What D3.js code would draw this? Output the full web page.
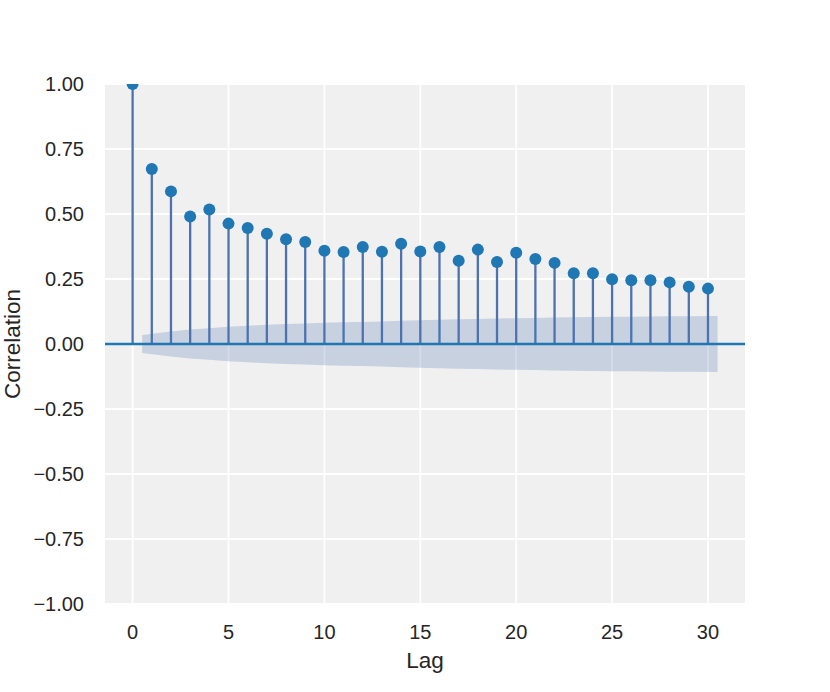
<!DOCTYPE html>
<html>
<head>
<meta charset="utf-8">
<script src="https://cdn.jsdelivr.net/npm/d3@7"></script>
<style>
  html, body { margin: 0; padding: 0; background: #ffffff; }
  svg { display: block; }
  text { font-family: "Liberation Sans", Arial, Helvetica, sans-serif; fill: #262626; }
</style>
</head>
<body>
<svg id="chart" width="830" height="692"></svg>
<script>
// ---- data ----
const lags = [0,1,2,3,4,5,6,7,8,9,10,11,12,13,14,15,16,17,18,19,20,21,22,23,24,25,26,27,28,29,30];
const acfValues = [1.000,0.673,0.587,0.490,0.517,0.463,0.446,0.424,0.403,0.392,0.359,0.354,0.373,0.355,0.386,0.356,0.373,0.320,0.363,0.315,0.351,0.327,0.312,0.272,0.272,0.249,0.245,0.245,0.237,0.220,0.213];
// confidence band half-width for lags 1..30
const bandLags = [0.5,2,3,4,5,6,7,8,9,10,11,12,13,14,15,16,17,18,19,20,21,22,23,24,25,26,27,28,29,30.5];
const bandHalf = [0.035,0.048,0.056,0.061,0.066,0.070,0.074,0.077,0.079,0.082,0.084,0.085,0.087,0.089,0.091,0.093,0.095,0.096,0.098,0.099,0.100,0.102,0.103,0.104,0.105,0.105,0.106,0.107,0.107,0.108];
const xTicks = [0,5,10,15,20,25,30];
const yTicks = [-1.00,-0.75,-0.50,-0.25,0.00,0.25,0.50,0.75,1.00];
const xLabel = "Lag";
const yLabel = "Correlation";

// ---- layout ----
const plot = { left: 105, right: 745, top: 84, bottom: 604 };
const svg = d3.select("#chart");
const x = d3.scaleLinear().domain([-1.44, 31.93]).range([plot.left, plot.right]);
const y = d3.scaleLinear().domain([-1, 1]).range([plot.bottom, plot.top]);

svg.append("defs").append("clipPath").attr("id", "clip")
  .append("rect").attr("x", plot.left).attr("y", plot.top)
  .attr("width", plot.right - plot.left).attr("height", plot.bottom - plot.top);

// background
svg.append("rect").attr("x", plot.left).attr("y", plot.top)
  .attr("width", plot.right - plot.left).attr("height", plot.bottom - plot.top)
  .attr("fill", "#f0f0f0");

// grid
const grid = svg.append("g");
grid.selectAll(".gx").data(xTicks).enter().append("line")
  .attr("x1", d => x(d)).attr("x2", d => x(d))
  .attr("y1", plot.top).attr("y2", plot.bottom)
  .attr("stroke", "#ffffff").attr("stroke-width", 1.8);
grid.selectAll(".gy").data(yTicks).enter().append("line")
  .attr("x1", plot.left).attr("x2", plot.right)
  .attr("y1", d => y(d)).attr("y2", d => y(d))
  .attr("stroke", "#ffffff").attr("stroke-width", 1.8);

const g = svg.append("g").attr("clip-path", "url(#clip)");

// confidence band
const band = bandLags.map((l, i) => ({ l, h: bandHalf[i] }));
const area = d3.area().x(d => x(d.l)).y0(d => y(-d.h)).y1(d => y(d.h));
g.append("path").datum(band).attr("d", area)
  .attr("fill", "#4c72b0").attr("fill-opacity", 0.25);

// stems
g.selectAll(".stem").data(lags).enter().append("line")
  .attr("x1", d => x(d)).attr("x2", d => x(d))
  .attr("y1", y(0)).attr("y2", (d, i) => y(acfValues[i]))
  .attr("stroke", "#4c72b0").attr("stroke-width", 2.3);

// zero line
g.append("line").attr("x1", plot.left).attr("x2", plot.right)
  .attr("y1", y(0)).attr("y2", y(0))
  .attr("stroke", "#1f77b4").attr("stroke-width", 2.4);

// markers
g.selectAll(".dot").data(lags).enter().append("circle")
  .attr("cx", d => x(d)).attr("cy", (d, i) => y(acfValues[i]))
  .attr("r", 6).attr("fill", "#1f77b4");

// tick labels
const fmt = v => (v < 0 ? "\u2212" : "") + Math.abs(v).toFixed(2);
svg.append("g").selectAll("text").data(yTicks).enter().append("text")
  .attr("x", 84).attr("y", d => y(d) + 7)
  .attr("text-anchor", "end").attr("font-size", 20)
  .text(fmt);
svg.append("g").selectAll("text").data(xTicks).enter().append("text")
  .attr("x", d => x(d)).attr("y", 639)
  .attr("text-anchor", "middle").attr("font-size", 20)
  .text(d => d);

// axis labels
svg.append("text").attr("x", (plot.left + plot.right) / 2).attr("y", 668)
  .attr("text-anchor", "middle").attr("font-size", 22.5).text(xLabel);
svg.append("text").attr("transform", `translate(20,${(plot.top + plot.bottom) / 2}) rotate(-90)`)
  .attr("text-anchor", "middle").attr("font-size", 22.5).text(yLabel);
</script>
</body>
</html>
